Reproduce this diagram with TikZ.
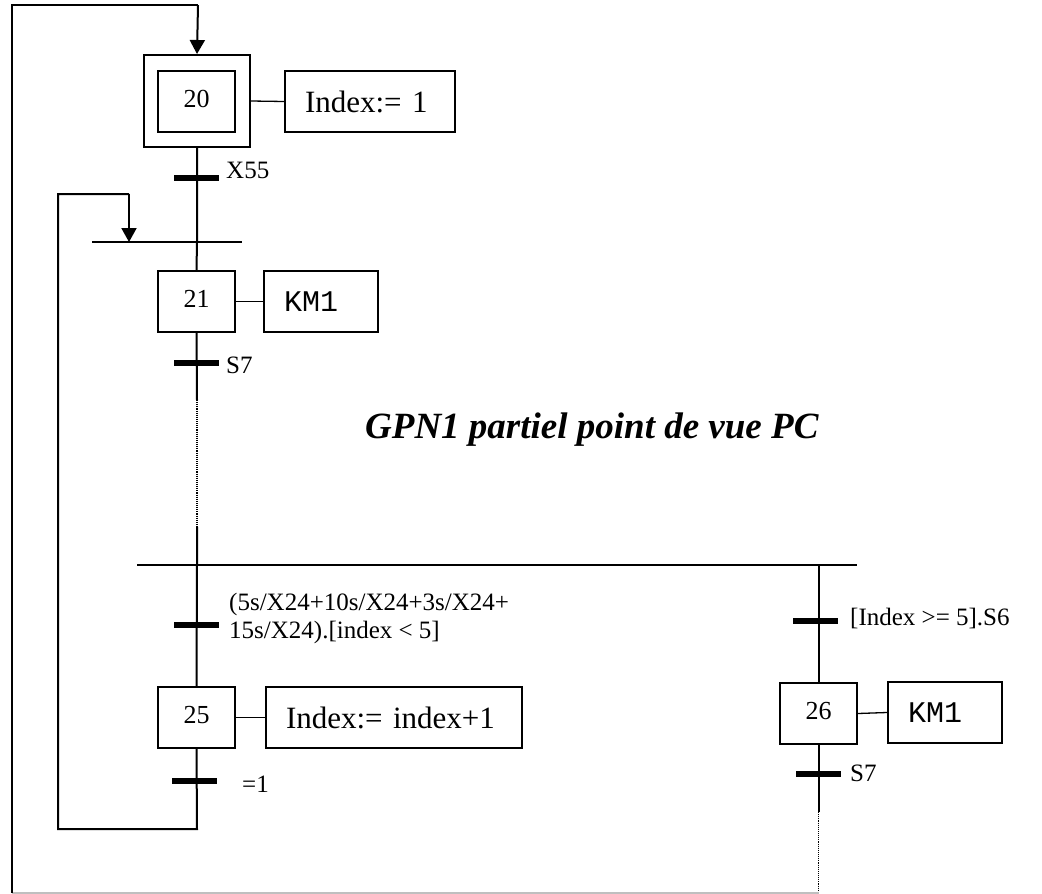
\documentclass[tikz,border=0pt]{standalone}
\usepackage{fontspec}
\setmainfont{Liberation Serif}
\setmonofont{Liberation Mono}
\usetikzlibrary{arrows.meta}
\begin{document}
\begin{tikzpicture}[x=1pt,y=-1pt,
  link/.style={line width=2pt},
  thin link/.style={line width=1.3pt},
  dotlink/.style={line width=1.1pt, densely dotted},
  arrowlink/.style={line width=2pt,-{Triangle[width=15pt,length=14pt]}},
  stepbox/.style={draw, line width=2pt, minimum width=77pt, minimum height=61pt,
    inner sep=0pt, text height=18pt, text depth=6pt, font=\fontsize{26}{28}\selectfont},
  initbox/.style={draw, line width=2pt, minimum width=106pt, minimum height=92pt, inner sep=0pt},
  actbox/.style={draw, line width=2pt, anchor=west, minimum height=61pt,
    inner xsep=20pt, inner ysep=0pt, align=left},
  actserif/.style={font=\fontsize{31}{34}\selectfont},
  actmono/.style={font=\ttfamily\fontsize{30}{32}\selectfont},
  bar/.style={fill=black, minimum width=45pt, minimum height=6pt, inner sep=0pt},
  cond/.style={anchor=base west, inner sep=0pt, align=left,
    font=\fontsize{25}{28}\selectfont},
]
\useasboundingbox (0,0) rectangle (1042,894);

% ---- steps ----
\node[initbox] (s20o) at (197,101) {};
\node[stepbox] (s20) at (196.5,101.3) {20};
\node[stepbox] (s21) at (196.5,301.5) {21};
\node[stepbox] (s25) at (196.5,717.5) {25};
\node[stepbox] (s26) at (818.5,713.5) {26};

% ---- actions ----
\node[actbox, actserif, text width=130pt] (a20) at (284,101.5) {Index:= 1};
\node[actbox, actmono, text width=74pt] (a21) at (263,301.5) {KM1};
\node[actbox, actserif, text width=216pt] (a25) at (265,717.5) {Index:= index+1};
\node[actbox, actmono, text width=74pt] (a26) at (887,712.5) {KM1};

\draw[thin link] (s20o.east) -- (a20.west);
\draw[thin link] (s21.east) -- (a21.west);
\draw[thin link] (s25.east) -- (a25.west);
\draw[thin link] (s26.east) -- (a26.west);

% ---- transitions ----
\node[bar] (t1) at (196.5,178) {};
\node[bar] (t2) at (196.5,363) {};
\node[bar] (t3) at (196.5,625) {};
\node[bar] (t4) at (194.5,781) {};
\node[bar] (t5) at (815.5,621) {};
\node[bar] (t6) at (818.5,774) {};

\node[cond] (r1) at (226,178) {X55};
\node[cond] (r2) at (226,373) {S7};
\node[cond] (r3) at (229,638) {(5s/X24+10s/X24+3s/X24+\\15s/X24).[index < 5]};
\node[cond] (r4) at (242,792) {=1};
\node[cond] (r5) at (850,625) {[Index >= 5].S6};
\node[cond] (r6) at (850,781) {S7};

% ---- junction lines ----
\coordinate (j1l) at (92,242);
\coordinate (j1r) at (242,242);
\coordinate (j1m) at (197,242);
\draw[thin link] (j1l) -- (j1r);

\coordinate (d1l) at (137,565);
\coordinate (d1r) at (857,565);
\coordinate (d1m) at (197,565);
\coordinate (d1b) at (818.5,565);
\draw[thin link] (d1l) -- (d1r);

% ---- main sequence ----
\draw[link] (s20o.south) -- (j1m) -- (s21.north);
\coordinate (m1) at (197,400);
\coordinate (m2) at (197,527);
\draw[link] (s21.south) -- (m1);
\draw[dotlink] (m1) -- (m2);
\draw[link] (m2) -- (d1m) -- (s25.north);

% left branch loop back to the junction
\coordinate (l1) at (197,829);
\coordinate (l2) at (58,829);
\coordinate (l3) at (58,194);
\coordinate (l4) at (129,194);
\coordinate (l5) at (129,242);
\draw[link] (s25.south) -- (l1) -- (l2) -- (l3) -- (l4);
\draw[arrowlink] (l4) -- (l5);

% right branch
\draw[link] (d1b) -- (s26.north);
\coordinate (e1) at (818.5,812);
\coordinate (e2) at (818.5,893);
\draw[link] (s26.south) -- (e1);
\draw[dotlink] (e1) -- (e2);

% outer loop back to the initial step
\coordinate (o1) at (12,893);
\coordinate (o2) at (12,5);
\coordinate (o3) at (198,5);
\draw[line width=1.1pt, gray!50] (e2) -- (o1);
\draw[link] (o1) -- (o2) -- (o3);
\draw[arrowlink] (o3) -- (s20o.north);

% ---- title ----
\node[anchor=base west, inner sep=0pt, font=\fontsize{37}{40}\selectfont\bfseries\itshape]
  (title) at (365,438) {GPN1 partiel point de vue PC};
\end{tikzpicture}
\end{document}
